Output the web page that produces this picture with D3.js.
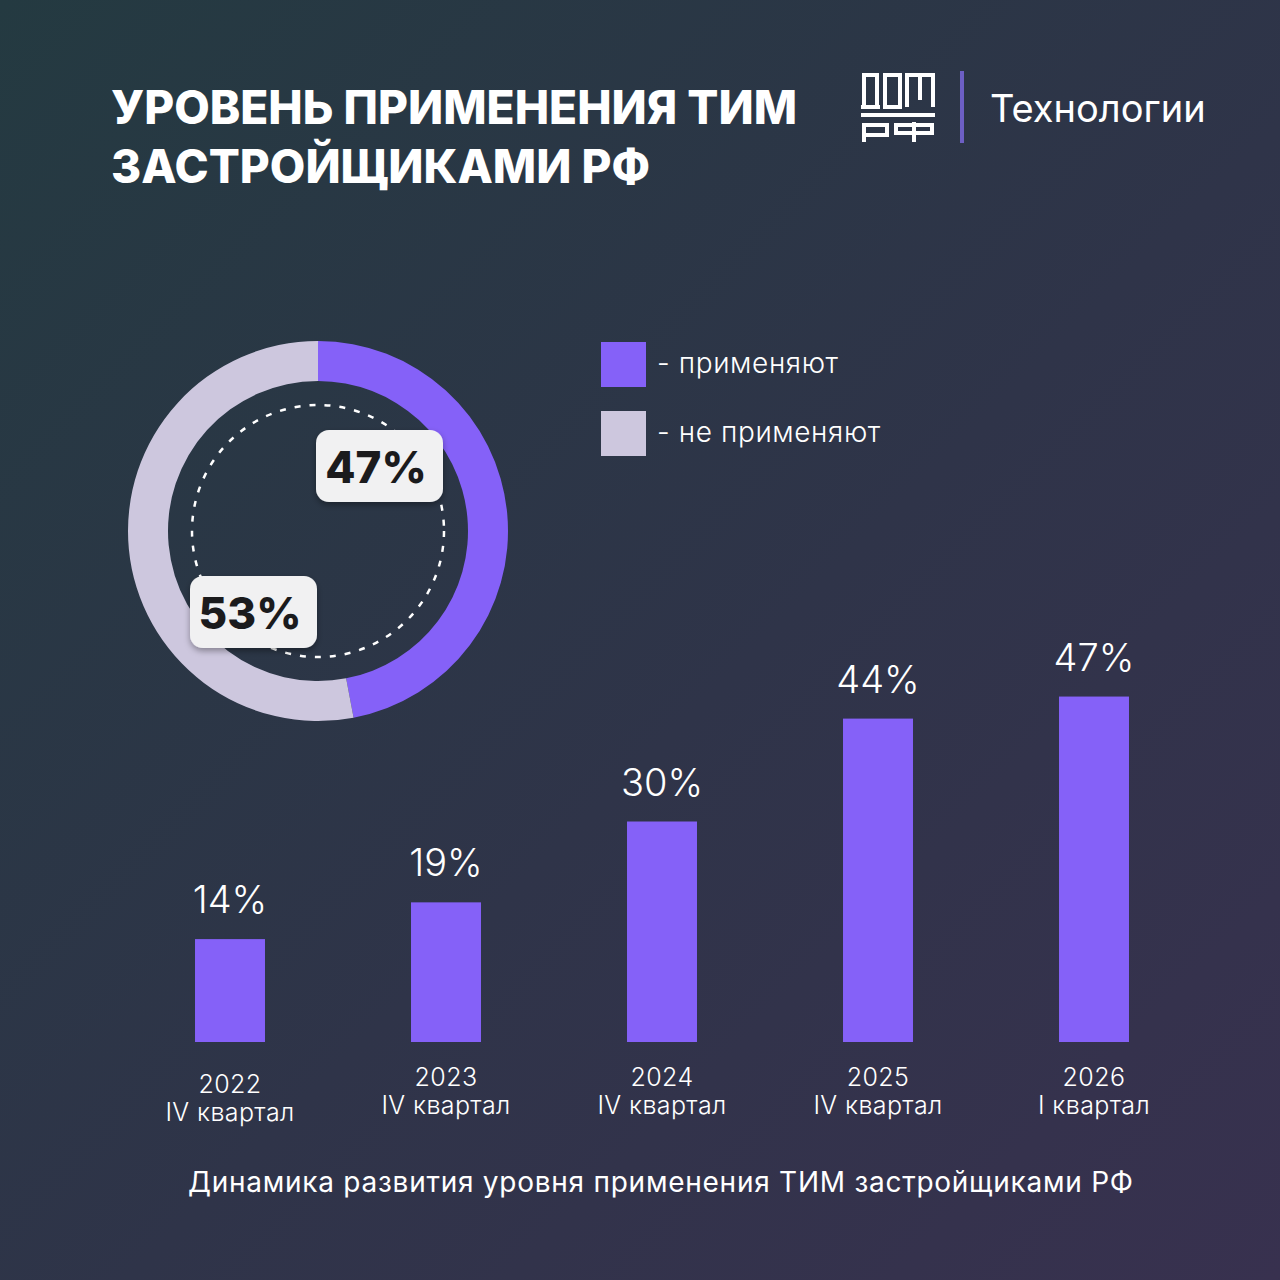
<!DOCTYPE html>
<html>
<head>
<meta charset="utf-8">
<script src="https://cdn.jsdelivr.net/npm/d3@7"></script>
<style>
  body { margin: 0; background: #2b3446; }
  svg { display: block; font-family: Inter, "Noto Sans", sans-serif; }
</style>
</head>
<body>
<div id="chart"></div>
<script>
// data
const periods = ["2022", "2023", "2024", "2025", "2026"];
const quarters = ["IV квартал", "IV квартал", "IV квартал", "IV квартал", "I квартал"];
const shares = [14, 19, 30, 44, 47];

const donutLabels = ["применяют", "не применяют"];
const donutValues = [47, 53];

const W = 1280, H = 1280;
const purple = "#8561f8", lilac = "#cdc7de";

const svg = d3.select("#chart").append("svg")
  .attr("width", W).attr("height", H);

const defs = svg.append("defs");
const bg = defs.append("linearGradient").attr("id", "bg")
  .attr("x1", "0").attr("y1", "0").attr("x2", "1").attr("y2", "1");
bg.append("stop").attr("offset", "0").attr("stop-color", "#243a41");
bg.append("stop").attr("offset", "0.55").attr("stop-color", "#2f3449");
bg.append("stop").attr("offset", "1").attr("stop-color", "#38314f");

const shadow = defs.append("filter").attr("id", "sh")
  .attr("x", "-20%").attr("y", "-20%").attr("width", "140%").attr("height", "150%");
shadow.append("feDropShadow").attr("dx", 0).attr("dy", 3).attr("stdDeviation", 3)
  .attr("flood-color", "#000").attr("flood-opacity", 0.35);

svg.append("rect").attr("width", W).attr("height", H).attr("fill", "url(#bg)");

// title
const title = svg.append("text").attr("fill", "#fff")
  .attr("font-size", 46).attr("font-weight", 800);
title.append("tspan").attr("x", 111).attr("y", 124).text("УРОВЕНЬ ПРИМЕНЕНИЯ ТИМ");
title.append("tspan").attr("x", 111).attr("y", 183).text("ЗАСТРОЙЩИКАМИ РФ");

// logo
const logo = svg.append("g").attr("fill", "none").attr("stroke", "#fff").attr("stroke-width", 4);
logo.append("path").attr("d", "M864,107 L864,75 L877,75 L877,107 M861,107 L880,107");
logo.append("path").attr("d", "M885,107 L885,75 L900,75 L900,107 Z");
logo.append("path").attr("d", "M907,107 L907,75 L933,75 L933,107 M920,75 L920,100");
logo.append("path").attr("d", "M861,115 L935,115");
logo.append("path").attr("d", "M864,142 L864,125 L887,125 L887,135 L864,135");
logo.append("path").attr("d", "M896,133 L896,125 L932,125 L932,133 Z M914,122 L914,142");
svg.append("rect").attr("x", 960).attr("y", 71).attr("width", 4).attr("height", 72).attr("fill", "#6d5fc4");
svg.append("text").attr("x", 990).attr("y", 122).attr("fill", "#fff")
  .attr("font-size", 38).text("Технологии");

// donut
const cx = 318, cy = 531;
const pie = d3.pie().sort(null)(donutValues);
const arc = d3.arc().innerRadius(150).outerRadius(190);
const dg = svg.append("g").attr("transform", `translate(${cx},${cy})`);
dg.selectAll("path").data(pie).enter().append("path")
  .attr("d", arc)
  .attr("fill", (d, i) => i === 0 ? purple : lilac);
dg.append("circle").attr("r", 126).attr("fill", "none")
  .attr("stroke", "#fff").attr("stroke-width", 2.5).attr("stroke-dasharray", "6 9");

// value boxes on donut
const boxes = [
  {x: 316, y: 430, v: donutValues[0]},
  {x: 190, y: 576, v: donutValues[1]}
];
boxes.forEach(b => {
  svg.append("rect").attr("x", b.x).attr("y", b.y).attr("width", 127).attr("height", 72)
    .attr("rx", 13).attr("fill", "#f1f1f2").attr("filter", "url(#sh)");
  svg.append("text").attr("x", b.x + 60).attr("y", b.y + 53)
    .attr("text-anchor", "middle").attr("font-size", 44).attr("font-weight", 800)
    .attr("fill", "#1b1b1d").text(b.v + "%");
});

// legend
const lg = svg.append("g");
donutLabels.forEach((lab, i) => {
  lg.append("rect").attr("x", 601).attr("y", 342 + i * 69).attr("width", 45).attr("height", 45)
    .attr("fill", i === 0 ? purple : lilac);
  lg.append("text").attr("x", 657).attr("y", 373 + i * 69).attr("fill", "#fff")
    .attr("font-size", 28).attr("font-weight", 300).attr("letter-spacing", 0.6)
    .text("- " + lab);
});

// bars
const x = d3.scaleBand().domain(periods).range([122, 1202]).paddingInner(0.676).paddingOuter(0.338);
const y = d3.scaleLinear().domain([0, 100]).range([1042, 307]);

const bars = svg.append("g");
bars.selectAll("rect").data(shares).enter().append("rect")
  .attr("x", (d, i) => x(periods[i]))
  .attr("y", d => y(d))
  .attr("width", x.bandwidth())
  .attr("height", d => y(0) - y(d))
  .attr("fill", purple);

bars.selectAll("text.val").data(shares).enter().append("text")
  .attr("class", "val")
  .attr("x", (d, i) => x(periods[i]) + x.bandwidth() / 2)
  .attr("y", d => y(d) - 26)
  .attr("text-anchor", "middle").attr("fill", "#fff")
  .attr("font-size", 38).attr("font-weight", 300).text(d => d + "%");

const ax = svg.append("g");
periods.forEach((p, i) => {
  const t = ax.append("text").attr("text-anchor", "middle").attr("fill", "#fff")
    .attr("font-size", 25).attr("font-weight", 300).attr("letter-spacing", 0.4);
  const cxp = x(p) + x.bandwidth() / 2;
  const dy = i === 0 ? 7 : 0;
  t.append("tspan").attr("x", cxp).attr("y", 1086 + dy).text(p);
  t.append("tspan").attr("x", cxp).attr("y", 1114 + dy).text(quarters[i]);
});

// footer
svg.append("text").attr("x", 188).attr("y", 1192)
  .attr("fill", "#fff").attr("font-size", 28)
  .attr("textLength", 945).attr("lengthAdjust", "spacing")
  .text("Динамика развития уровня применения ТИМ застройщиками РФ");
</script>
</body>
</html>
